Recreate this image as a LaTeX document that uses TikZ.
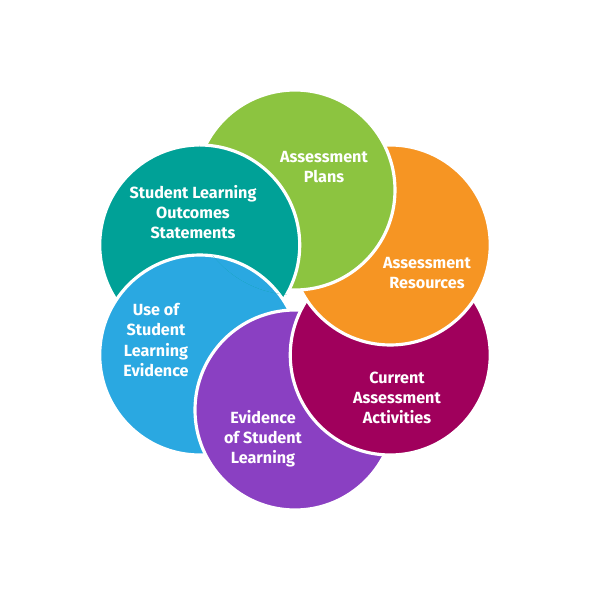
\documentclass[tikz,border=0pt]{standalone}
\usepackage{fontspec}
\setmainfont{Fira Sans}
\usetikzlibrary{positioning}

\definecolor{plansgreen}{RGB}{140,196,64}
\definecolor{resorange}{RGB}{246,149,35}
\definecolor{actmagenta}{RGB}{160,0,92}
\definecolor{evpurple}{RGB}{138,64,194}
\definecolor{useblue}{RGB}{42,168,225}
\definecolor{outteal}{RGB}{0,161,151}

\begin{document}
\begin{tikzpicture}[font=\bfseries\fontsize{9.2}{11.4}\selectfont]

  \tikzstyle{petal}=[draw=white,line width=1.8pt]
  \tikzstyle{caption}=[text=white,align=center,inner sep=0pt]

  \useasboundingbox (-5.9,-6) rectangle (6.1,6);

  \coordinate (plans)     at (90:2.2);
  \coordinate (resources) at (30:2.2);
  \coordinate (current)   at (-30:2.2);
  \coordinate (evidence)  at (-90:2.2);
  \coordinate (use)       at (-150:2.2);
  \coordinate (outcomes)  at (150:2.2);

  % bottom to top, the teal one comes back over the green one
  \filldraw[petal,fill=outteal]    (outcomes)  circle (2);
  \filldraw[petal,fill=useblue]    (use)       circle (2);
  \filldraw[petal,fill=evpurple]   (evidence)  circle (2);
  \filldraw[petal,fill=actmagenta] (current)   circle (2);
  \filldraw[petal,fill=resorange]  (resources) circle (2);
  \filldraw[petal,fill=plansgreen] (plans)     circle (2);
  \begin{scope}
    \clip (plans) circle (2.1);
    \filldraw[petal,fill=outteal] (outcomes) circle (2);
    \clip (outcomes) circle (2.1);
    \filldraw[petal,fill=useblue] (use) circle (2);
  \end{scope}

  \node[caption] (plansT)     at (0.58,2.66)   {Assessment\\Plans};
  \node[caption] (resourcesT) at (2.64,0.54)   {Assessment\\Resources};
  \node[caption] (currentT)   at (2.04,-1.96)  {Current\\Assessment\\Activities};
  \node[caption] (evidenceT)  at (-0.64,-2.78) {Evidence\\of Student\\Learning};
  \node[caption] (useT)       at (-2.78,-0.80) {Use of\\Student\\Learning\\Evidence};
  \node[caption] (outcomesT)  at (-2.04,1.76)  {Student Learning\\Outcomes\\Statements};
\end{tikzpicture}
\end{document}
